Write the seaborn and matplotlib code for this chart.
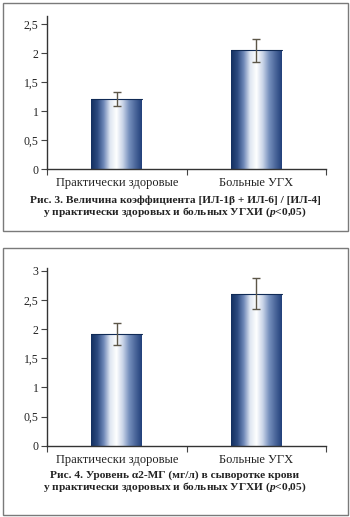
import numpy as np
import pandas as pd
import matplotlib
matplotlib.use("Agg")
import matplotlib.pyplot as plt
from matplotlib.colors import LinearSegmentedColormap
from matplotlib.patches import Rectangle
import seaborn as sns

categories = ["Практически здоровые", "Больные УГХ"]
fig3_values = [1.21, 2.05]
fig3_errors = [0.12, 0.20]
fig4_values = [1.91, 2.61]
fig4_errors = [0.19, 0.26]
fig3_yticks = [0, 0.5, 1, 1.5, 2, 2.5]
fig4_yticks = [0, 0.5, 1, 1.5, 2, 2.5, 3]
caption3 = ["Рис. 3. Величина коэффициента [ИЛ-1β + ИЛ-6] / [ИЛ-4]",
            "у практически здоровых и больных УГХИ ($p$<0,05)"]
caption4 = ["Рис. 4. Уровень α2-МГ (мг/л) в сыворотке крови",
            "у практически здоровых и больных УГХИ ($p$<0,05)"]

sns.set_theme(style="white")
plt.rcParams['font.family'] = ['Liberation Serif', 'DejaVu Serif']
plt.rcParams['mathtext.fontset'] = 'custom'
plt.rcParams['mathtext.it'] = 'Liberation Serif:italic:bold'
plt.rcParams['mathtext.rm'] = 'Liberation Serif:bold'

W, H = 350, 517
fig = plt.figure(figsize=(W / 100, H / 100), dpi=100)
fig.patch.set_facecolor("white")

cmap = LinearSegmentedColormap.from_list(
    "bar", ["#13305f", "#2c4a80", "#6f88b8", "#dfe6f2", "#ffffff",
            "#c9d4e8", "#7690bd", "#4a669a", "#22407a"])

def fmt(v):
    return ("%g" % v).replace(".", ",")

def draw_panel(rect, values, errors, yticks, ytop):
    ax = fig.add_axes(rect)
    df = pd.DataFrame({"cat": categories, "val": values})
    sns.barplot(data=df, x="cat", y="val", ax=ax, width=0.365,
                color="#1f3c70", errorbar=None, saturation=1)
    grad = np.linspace(0, 1, 256).reshape(1, -1)
    for p in list(ax.patches):
        x0, y0 = p.get_x(), p.get_y()
        w, h = p.get_width(), p.get_height()
        p.set_facecolor("none")
        p.set_edgecolor("none")
        im = ax.imshow(grad, cmap=cmap, aspect="auto",
                       extent=(x0, x0 + w, y0, y0 + h), zorder=2)
        im.set_clip_path(p)
        ax.plot([x0, x0 + w], [y0 + h, y0 + h], color="#102a55", lw=0.8, zorder=3)
    ax.errorbar(range(len(values)), values, yerr=errors, fmt="none",
                ecolor="#5c5648", elinewidth=1, capsize=3, capthick=1, zorder=4)
    ax.set_xlim(-0.5, len(values) - 0.5)
    ax.set_ylim(0, ytop)
    ax.set_yticks(yticks)
    ax.set_yticklabels([fmt(v) for v in yticks], fontsize=8.5, color="#222222")
    ax.set_xticks(range(len(values)))
    ax.set_xticklabels(categories, fontsize=9, color="#222222")
    ax.set_xticks([-0.5, 0.5, 1.5], minor=True)
    ax.tick_params(axis="x", which="major", length=0, pad=6)
    ax.tick_params(axis="x", which="minor", length=4, width=0.8, color="#444444", direction="out", bottom=True)
    ax.tick_params(axis="y", length=4, width=0.8, color="#444444", direction="out", left=True, pad=2)
    ax.set_xlabel("")
    ax.set_ylabel("")
    for s in ["top", "right"]:
        ax.spines[s].set_visible(False)
    for s in ["left", "bottom"]:
        ax.spines[s].set_color("#333333")
        ax.spines[s].set_linewidth(1.0)
    ax.set_facecolor("white")
    return ax

# panel boxes
fig.add_artist(Rectangle((3 / W, 1 - 231 / H), 345 / W, 228 / H, transform=fig.transFigure,
                         fill=False, edgecolor="#7a7a7a", lw=1.0))
fig.add_artist(Rectangle((3 / W, 1 - 515 / H), 345 / W, 267 / H, transform=fig.transFigure,
                         fill=False, edgecolor="#7a7a7a", lw=1.0))

draw_panel([47 / W, 1 - 169 / H, 279 / W, 153 / H], fig3_values, fig3_errors, fig3_yticks, 2.64)
draw_panel([47 / W, 1 - 445.7 / H, 279 / W, 177.7 / H], fig4_values, fig4_errors, fig4_yticks, 3.05)

for i, line in enumerate(caption3):
    fig.text(175 / W, 1 - (200 + 12.5 * i) / H, line, ha="center", va="center",
             fontsize=8.2, fontweight="bold", color="#222222")
for i, line in enumerate(caption4):
    fig.text(175 / W, 1 - (475 + 12.5 * i) / H, line, ha="center", va="center",
             fontsize=8.2, fontweight="bold", color="#222222")

fig.savefig("out.png", dpi=100, facecolor="white")
